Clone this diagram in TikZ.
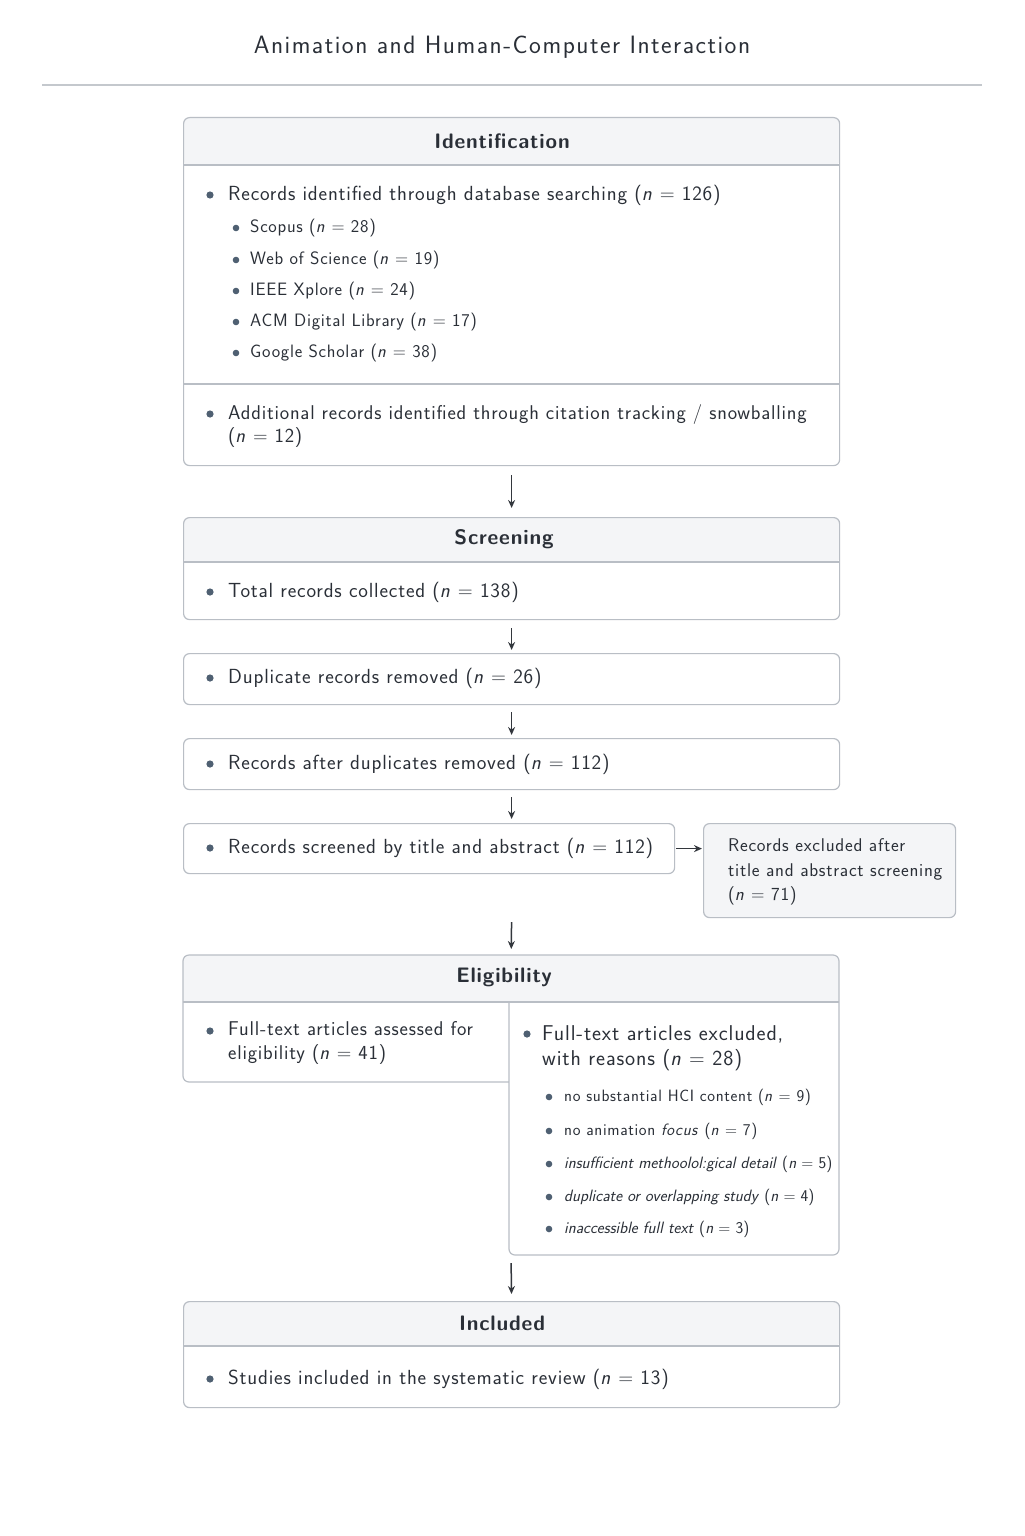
\documentclass[tikz,border=0pt]{standalone}
\usepackage{fontspec}
\setsansfont{Latin Modern Sans}[LetterSpace=4]
\newfontfamily\titlefont{Latin Modern Sans}[LetterSpace=6]
\newfontfamily\plainsf{Latin Modern Sans}
\usetikzlibrary{arrows.meta}
\definecolor{bordc}{HTML}{B9BEC5}
\definecolor{hdr}{HTML}{F4F5F7}
\definecolor{txt}{HTML}{2A2F37}
\definecolor{bul}{HTML}{4F6072}
\definecolor{rulec}{HTML}{C4C8CD}
\definecolor{arrc}{HTML}{33373D}
\newcommand\nn{\textit{n}}
\begin{document}
\begin{tikzpicture}[x=1bp,y=-1bp,
  pbox/.style={draw=bordc, line width=1.2bp, rounded corners=6bp, fill=white, inner sep=0pt, anchor=north west},
  hbox/.style={pbox, path picture={\fill[hdr] (path picture bounding box.north west) rectangle ([yshift=-#1]path picture bounding box.north east);}},
  sepl/.style={draw=bordc, line width=1.2bp},
  head/.style={inner sep=0pt, font=\sffamily\bfseries\fontsize{21}{25}\selectfont, text=txt},
  t/.style={anchor=west, inner sep=0pt, align=left, font=\sffamily\fontsize{20.5}{24}\selectfont, text=txt},
  ts/.style={anchor=west, inner sep=0pt, align=left, font=\sffamily\fontsize{18}{22}\selectfont, text=txt},
  tss/.style={anchor=west, inner sep=0pt, align=left, font=\sffamily\fontsize{16.5}{21}\selectfont, text=txt},
  tsi/.style={anchor=west, inner sep=0pt, align=left, font=\plainsf\fontsize{16.5}{21}\selectfont, text=txt},
  arr/.style={draw=arrc, line width=1.5bp, -{Stealth[length=8bp,width=7bp]}},
  bigb/.style={fill=bul},
]
\fill[white] (0,0) rectangle (1024,1536);
\useasboundingbox (0,0) rectangle (1024,1536);

% title
\node[inner sep=0pt, font=\titlefont\fontsize{25.2}{29}\selectfont, text=txt] (title) at (502,47) {Animation and Human-Computer Interaction};
\draw[draw=rulec, line width=1.3bp] (42,85) -- (982,85);

% Identification
\node[hbox=48bp, minimum width=656bp, minimum height=348bp] (ident) at (183,117) {};
\node[head] (identh) at (502,141) {Identification};
\draw[sepl] (183,165) -- (839,165);
\draw[sepl] (183,384) -- (839,384);
\fill[bigb] (210,195) circle (3.6bp);
\node[t] (i1) at (228,195) {Records identified through database searching (\nn{} = 126)};
\fill[bigb] (236,228) circle (3.3bp);
\node[ts] (i1a) at (250,228) {Scopus (\nn{} = 28)};
\fill[bigb] (236,260) circle (3.3bp);
\node[ts] (i1b) at (250,260) {Web of Science (\nn{} = 19)};
\fill[bigb] (236,291) circle (3.3bp);
\node[ts] (i1c) at (250,291) {IEEE Xplore (\nn{} = 24)};
\fill[bigb] (236,322) circle (3.3bp);
\node[ts] (i1d) at (250,322) {ACM Digital Library (\nn{} = 17)};
\fill[bigb] (236,353) circle (3.3bp);
\node[ts] (i1e) at (250,353) {Google Scholar (\nn{} = 38)};
\fill[bigb] (210,414) circle (3.6bp);
\node[t, font=\sffamily\fontsize{20}{24}\selectfont] (i2) at (228,426) {Additional records identified through citation tracking / snowballing\\(\nn{} = 12)};

% Screening
\node[hbox=45bp, minimum width=656bp, minimum height=102bp] (screen) at (183,517) {};
\node[head] (screenh) at (504,539) {Screening};
\draw[sepl] (183,562) -- (839,562);
\fill[bigb] (210,592) circle (3.6bp);
\node[t] (s1) at (228,592) {Total records collected (\nn{} = 138)};

\node[pbox, minimum width=656bp, minimum height=51bp] (dup) at (183,653) {};
\fill[bigb] (210,678) circle (3.6bp);
\node[t] (s2) at (228,678) {Duplicate records removed (\nn{} = 26)};

\node[pbox, minimum width=656bp, minimum height=51bp] (after) at (183,738) {};
\fill[bigb] (210,764) circle (3.6bp);
\node[t] (s3) at (228,764) {Records after duplicates removed (\nn{} = 112)};

\node[pbox, minimum width=491bp, minimum height=50bp] (scr) at (183,823) {};
\fill[bigb] (210,848) circle (3.6bp);
\node[t] (s4) at (228,848) {Records screened by title and abstract (\nn{} = 112)};

\node[pbox, fill=hdr, minimum width=252bp, minimum height=94bp] (excl) at (703,823) {};
\node[t, font=\sffamily\fontsize{18.5}{24.5}\selectfont] (ex) at (728,872) {Records excluded after\\title and abstract screening\\(\nn{} = 71)};

% Eligibility
\node[inner sep=0pt, minimum width=656bp, minimum height=47bp, anchor=north west] (elig) at (183,955) {};
\begin{scope}
\clip[rounded corners=6bp] (183,955) rectangle (839,1255);
\fill[hdr] (183,955) rectangle (839,1002);
\end{scope}
\draw[sepl, rounded corners=6bp] (509,1002) -- (509,1255) -- (839,1255) -- (839,955) -- (183,955) -- (183,1082) -- (509,1082);
\draw[sepl] (183,1002) -- (839,1002);
\node[head] (eligh) at (504,977) {Eligibility};
\fill[bigb] (210,1031) circle (3.6bp);
\node[t, font=\sffamily\fontsize{20}{24}\selectfont] (e1) at (228,1043) {Full-text articles assessed for\\eligibility (\nn{} = 41)};
\fill[bigb] (527,1034) circle (3.6bp);
\node[t, font=\sffamily\fontsize{21.5}{25}\selectfont] (e2) at (542,1048) {Full-text articles excluded,\\with reasons (\nn{} = 28)};
\fill[bigb] (549,1097) circle (3.3bp);
\node[tss] (e2a) at (564,1097) {no substantial HCI content (\nn{} = 9)};
\fill[bigb] (549,1131) circle (3.3bp);
\node[tss] (e2b) at (564,1131) {no animation \textit{focus} (\nn{} = 7)};
\fill[bigb] (549,1164) circle (3.3bp);
\node[tsi] (e2c) at (564,1164) {\textit{insufficient methoolol:gical detail} (\textit{n} = 5)};
\fill[bigb] (549,1197) circle (3.3bp);
\node[tsi] (e2d) at (564,1197) {\textit{duplicate or overlapping study} (\textit{n} = 4)};
\fill[bigb] (549,1229) circle (3.3bp);
\node[tsi] (e2e) at (564,1229) {\textit{inaccessible full text} (\textit{n} = 3)};
\coordinate (eligbot) at (511,1255);

% Included
\node[hbox=45bp, minimum width=656bp, minimum height=106bp] (incl) at (183,1301) {};
\node[head] (inclh) at (502,1323) {Included};
\draw[sepl] (183,1346) -- (839,1346);
\fill[bigb] (210,1379) circle (3.6bp);
\node[t] (n1) at (228,1379) {Studies included in the systematic review (\nn{} = 13)};

% arrows
\draw[arr, shorten <=9bp, shorten >=9bp] (ident.south) -- (screen.north);
\draw[arr, shorten <=8bp, shorten >=3bp] (screen.south) -- (dup.north);
\draw[arr, shorten <=7bp, shorten >=3bp] (dup.south) -- (after.north);
\draw[arr, shorten <=7bp, shorten >=4bp] (after.south) -- (ident.south |- scr.north);
\draw[arr, shorten <=1bp, shorten >=1bp] (scr.east) -- (scr.east -| excl.west);
\draw[arr, shorten <=4bp, shorten >=6bp] (ident.south |- excl.south) -- (elig.north);
\draw[arr, shorten <=8bp, shorten >=7bp] (eligbot) -- (incl.north);
\end{tikzpicture}
\end{document}
